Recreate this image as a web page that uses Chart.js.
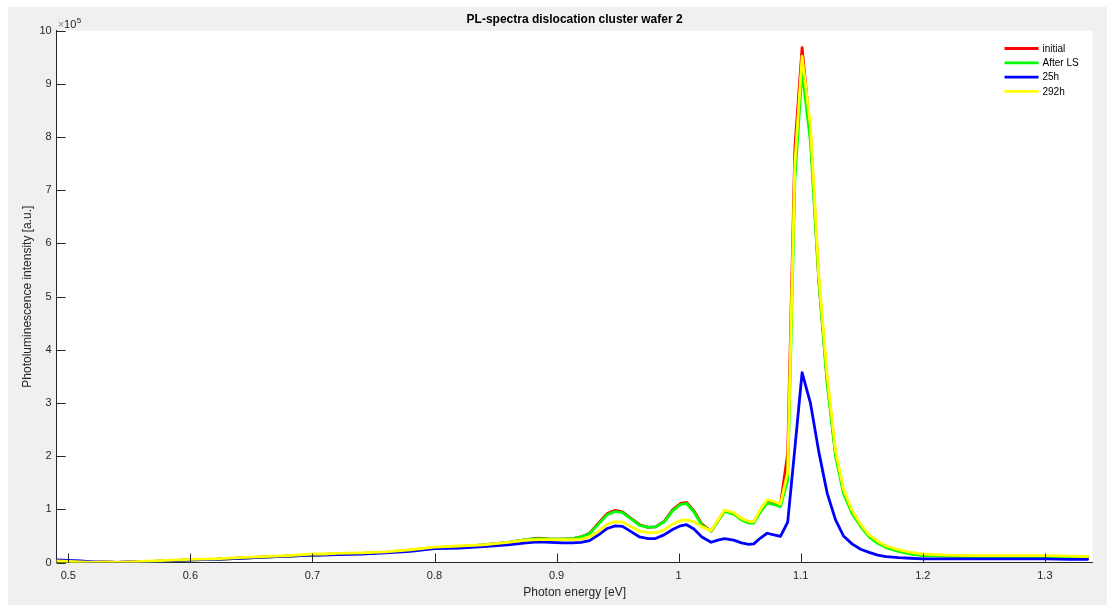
<!DOCTYPE html>
<html>
<head>
<meta charset="utf-8">
<script src="https://cdn.jsdelivr.net/npm/chart.js@4/dist/chart.umd.min.js"></script>
<style>
  html, body { margin: 0; padding: 0; background: #ffffff; }
  #fig { position: absolute; left: 8px; top: 7px; width: 1099px; height: 598px; background: #f0f0f0; }
  canvas { display: block; }
</style>
</head>
<body>
<div id="fig"><canvas id="c" width="1099" height="598"></canvas></div>
<script>
// Photon energy [eV]
const energy = [
  0.490, 0.500, 0.510, 0.520, 0.530, 0.540, 0.550, 0.560, 0.570, 0.580,
  0.590, 0.600, 0.620, 0.640, 0.660, 0.680, 0.700, 0.710, 0.720, 0.740,
  0.760, 0.780, 0.800, 0.820, 0.840, 0.860, 0.875, 0.885, 0.895, 0.905,
  0.913, 0.920, 0.927, 0.935, 0.9415, 0.948, 0.954, 0.961, 0.968, 0.975,
  0.981, 0.988, 0.995, 1.0015, 1.0065, 1.0125, 1.019, 1.0266, 1.032, 1.0375,
  1.045, 1.0515, 1.0575, 1.0615, 1.067, 1.0725, 1.078, 1.0834, 1.0893, 1.0952,
  1.1011, 1.108, 1.1148, 1.1217, 1.1285, 1.135, 1.142, 1.149, 1.156, 1.163,
  1.170, 1.180, 1.190, 1.200, 1.220, 1.240, 1.260, 1.280, 1.300, 1.320,
  1.335
];
// PL intensity, in units of 1e5 a.u.
const initialPL = [
  0.03, 0.02, 0.01, 0.00, 0.01, 0.00, 0.01, 0.02, 0.02, 0.03,
  0.04, 0.05, 0.06, 0.08, 0.10, 0.12, 0.14, 0.15, 0.16, 0.17,
  0.19, 0.23, 0.28, 0.30, 0.33, 0.38, 0.43, 0.46, 0.44, 0.44,
  0.45, 0.48, 0.55, 0.76, 0.92, 0.98, 0.95, 0.83, 0.71, 0.66,
  0.67, 0.77, 0.99, 1.11, 1.13, 0.97, 0.72, 0.59, 0.78, 0.98,
  0.93, 0.82, 0.76, 0.76, 0.98, 1.16, 1.13, 1.09, 2.05, 7.80,
  9.68, 8.05, 5.30, 3.40, 2.05, 1.35, 0.95, 0.70, 0.50, 0.38,
  0.29, 0.22, 0.17, 0.14, 0.12, 0.11, 0.11, 0.11, 0.11, 0.10,
  0.10
];
const afterLS = [
  0.02, 0.02, 0.01, 0.00, 0.00, 0.00, 0.00, 0.01, 0.02, 0.03,
  0.04, 0.05, 0.06, 0.08, 0.10, 0.12, 0.14, 0.15, 0.16, 0.17,
  0.19, 0.23, 0.28, 0.30, 0.33, 0.38, 0.43, 0.45, 0.44, 0.44,
  0.45, 0.48, 0.54, 0.74, 0.90, 0.96, 0.94, 0.82, 0.70, 0.66,
  0.67, 0.76, 0.97, 1.09, 1.11, 0.95, 0.70, 0.59, 0.77, 0.96,
  0.91, 0.80, 0.74, 0.74, 0.95, 1.12, 1.09, 1.05, 1.55, 7.20,
  9.25, 7.90, 5.30, 3.35, 2.00, 1.30, 0.92, 0.68, 0.48, 0.36,
  0.28, 0.21, 0.16, 0.13, 0.12, 0.11, 0.11, 0.11, 0.11, 0.10,
  0.10
];
const h25 = [
  0.05, 0.04, 0.03, 0.01, 0.01, 0.00, 0.01, 0.02, 0.02, 0.03,
  0.04, 0.05, 0.06, 0.08, 0.10, 0.12, 0.14, 0.14, 0.15, 0.16,
  0.18, 0.21, 0.26, 0.27, 0.30, 0.33, 0.37, 0.39, 0.38, 0.37,
  0.37, 0.38, 0.41, 0.53, 0.64, 0.69, 0.68, 0.58, 0.48, 0.45,
  0.45, 0.52, 0.62, 0.69, 0.71, 0.63, 0.48, 0.38, 0.42, 0.45,
  0.42, 0.37, 0.34, 0.35, 0.46, 0.55, 0.52, 0.49, 0.76, 2.15,
  3.57, 2.99, 2.08, 1.30, 0.80, 0.50, 0.35, 0.25, 0.19, 0.14,
  0.11, 0.09, 0.08, 0.07, 0.07, 0.07, 0.07, 0.07, 0.07, 0.06,
  0.06
];
const h292 = [
  0.03, 0.02, 0.01, 0.00, 0.01, 0.00, 0.01, 0.02, 0.03, 0.04,
  0.05, 0.06, 0.07, 0.09, 0.11, 0.13, 0.16, 0.16, 0.17, 0.18,
  0.20, 0.24, 0.29, 0.31, 0.33, 0.38, 0.42, 0.43, 0.43, 0.43,
  0.43, 0.44, 0.48, 0.60, 0.72, 0.77, 0.76, 0.67, 0.59, 0.56,
  0.56, 0.61, 0.72, 0.79, 0.80, 0.77, 0.67, 0.60, 0.79, 0.99,
  0.94, 0.83, 0.77, 0.77, 1.00, 1.18, 1.15, 1.10, 1.70, 7.50,
  9.52, 8.20, 5.40, 3.50, 2.10, 1.38, 0.98, 0.72, 0.52, 0.40,
  0.31, 0.24, 0.19, 0.16, 0.14, 0.13, 0.13, 0.13, 0.13, 0.12,
  0.11
];
const seriesLabels = ['initial', 'After LS', '25h', '292h'];
const seriesColors = ['#ff0000', '#00ff00', '#0000ff', '#ffff00'];
const xTicks = [0.5, 0.6, 0.7, 0.8, 0.9, 1.0, 1.1, 1.2, 1.3];
const yTicks = [0, 1, 2, 3, 4, 5, 6, 7, 8, 9, 10];
const titleText = 'PL-spectra dislocation cluster wafer 2';
const xLabel = 'Photon energy [eV]';
const yLabel = 'Photoluminescence intensity [a.u.]';

const FONT = '"Liberation Sans", Arial, Helvetica, sans-serif';
const AX = '#262626';

function pts(vals) { return energy.map((e, i) => ({ x: e, y: vals[i] })); }
const allSeries = [initialPL, afterLS, h25, h292];
const drawOrder = [3, 2, 1, 0];

const datasets = allSeries.map((vals, i) => ({
  label: seriesLabels[i],
  data: pts(vals),
  borderColor: seriesColors[i],
  backgroundColor: seriesColors[i],
  borderWidth: 2.8,
  pointRadius: 0,
  tension: 0,
  fill: false,
  borderJoinStyle: 'round',
  borderCapStyle: 'round',
  order: drawOrder[i]
}));

const bgPlugin = {
  id: 'bg',
  beforeDraw(chart) {
    const { ctx, chartArea: a } = chart;
    ctx.save();
    ctx.fillStyle = '#ffffff';
    ctx.fillRect(a.left, a.top, a.right - a.left, a.bottom - a.top);
    ctx.restore();
  }
};

const tickPlugin = {
  id: 'inTicks',
  afterDatasetsDraw(chart) {
    const { ctx, chartArea: a, scales } = chart;
    ctx.save();
    ctx.strokeStyle = AX;
    ctx.lineWidth = 1;
    ctx.beginPath();
    scales.x.ticks.forEach(t => {
      const px = Math.round(scales.x.getPixelForValue(t.value)) + 0.5;
      ctx.moveTo(px, a.bottom);
      ctx.lineTo(px, a.bottom - 9);
    });
    scales.y.ticks.forEach(t => {
      const py = Math.round(scales.y.getPixelForValue(t.value)) + 0.5;
      ctx.moveTo(a.left, py);
      ctx.lineTo(a.left + 9, py);
    });
    ctx.stroke();
    // exponent label
    ctx.textBaseline = 'alphabetic';
    ctx.textAlign = 'left';
    ctx.font = '11px ' + FONT;
    ctx.fillStyle = '#8a8a8a';
    ctx.fillText('\u00d7', a.left + 1, a.top - 2.5);
    const wx = ctx.measureText('\u00d7').width;
    ctx.fillStyle = AX;
    ctx.fillText('10', a.left + 1 + wx, a.top - 2.5);
    const w10 = ctx.measureText('10').width;
    ctx.font = '8px ' + FONT;
    ctx.fillText('5', a.left + 1 + wx + w10 + 0.5, a.top - 7.5);
    // legend
    const lx0 = a.right - 88, lx1 = lx0 + 34, tx = lx1 + 4;
    const y0 = a.top + 17.8, dy = 14.3;
    ctx.font = '10px ' + FONT;
    ctx.textBaseline = 'middle';
    chart.data.datasets.forEach((ds, i) => {
      const y = y0 + i * dy;
      ctx.strokeStyle = ds.borderColor;
      ctx.lineWidth = 2.8;
      ctx.beginPath();
      ctx.moveTo(lx0, y);
      ctx.lineTo(lx1, y);
      ctx.stroke();
      ctx.fillStyle = '#000000';
      ctx.fillText(ds.label, tx, y + 0.5);
    });
    ctx.restore();
  }
};

new Chart(document.getElementById('c'), {
  type: 'line',
  data: { datasets },
  plugins: [bgPlugin, tickPlugin],
  options: {
    responsive: false,
    animation: false,
    devicePixelRatio: 1,
    layout: { padding: { left: 0, right: 14.5, top: 0, bottom: 0 } },
    plugins: {
      legend: { display: false },
      tooltip: { enabled: false },
      title: {
        display: true,
        text: titleText,
        fullSize: false,
        color: '#000000',
        font: { family: FONT, size: 12, weight: 'bold', lineHeight: 1.2 },
        padding: { top: 5, bottom: 4.3 }
      }
    },
    scales: {
      x: {
        type: 'linear',
        min: 0.4905,
        max: 1.339,
        afterFit(s) { s.height = 42.5; },
        afterBuildTicks(s) { s.ticks = xTicks.map(v => ({ value: v })); },
        grid: { display: false, drawTicks: false },
        border: { display: true, color: AX, width: 1 },
        ticks: {
          color: AX,
          padding: 7,
          maxRotation: 0,
          autoSkip: false,
          font: { family: FONT, size: 11 },
          callback: v => String(Math.round(v * 10) / 10)
        },
        title: {
          display: true,
          text: xLabel,
          color: AX,
          font: { family: FONT, size: 12, lineHeight: 1.2 },
          padding: { top: 0, bottom: 5.3 }
        }
      },
      y: {
        type: 'linear',
        min: 0,
        max: 10,
        afterFit(s) { s.width = 48.7; },
        afterBuildTicks(s) { s.ticks = yTicks.map(v => ({ value: v })); },
        grid: { display: false, drawTicks: false },
        border: { display: true, color: AX, width: 1 },
        ticks: {
          color: AX,
          padding: 5,
          autoSkip: false,
          font: { family: FONT, size: 11 },
          callback: v => String(v)
        },
        title: {
          display: true,
          text: yLabel,
          color: AX,
          font: { family: FONT, size: 12, lineHeight: 1.2 },
          padding: { top: 12.8, bottom: 0 }
        }
      }
    }
  }
});
</script>
</body>
</html>
